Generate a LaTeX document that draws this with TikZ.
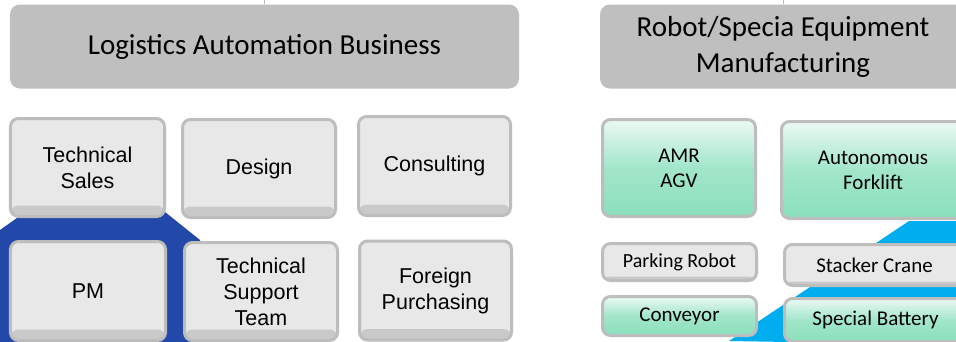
\documentclass[tikz,border=0pt]{standalone}
\usepackage{fontspec}
\setmainfont{Carlito}
\newfontfamily\arialfont{Liberation Sans}
\usepackage{tikz}
\usepackage{xcolor}

\definecolor{headgray}{HTML}{BFBFBF}
\definecolor{boxline}{HTML}{BDBDBD}
\definecolor{boxfill}{HTML}{E8E8E8}
\definecolor{boxstrip}{HTML}{C9C9C9}
\definecolor{greentop}{HTML}{ECF9F3}
\definecolor{greenmid}{HTML}{A2E6CA}
\definecolor{greenbot}{HTML}{8ADFBC}
\definecolor{darkblue}{HTML}{2249A9}
\definecolor{skyblue}{HTML}{00AEEF}

\begin{document}
\begin{tikzpicture}[x=1bp,y=-1bp,
    head/.style={fill=headgray, rounded corners=10bp, inner sep=0pt, align=center,
        font=\fontsize{29bp}{36bp}\selectfont},
    boxsize/.style 2 args={minimum width=#1bp, minimum height=#2bp},
    strip/.style={path picture={\fill[boxstrip] ([yshift=#1]path picture bounding box.south west)
        rectangle (path picture bounding box.south east);}},
    graybox/.style={draw=boxline, line width=3bp, rounded corners=8bp, fill=boxfill,
        inner sep=0pt, align=center, strip=11bp, font=\arialfont\fontsize{21.5bp}{26bp}\selectfont},
    greenbox/.style={draw=boxline, line width=3bp, rounded corners=8bp, inner sep=0pt,
        align=center, top color=greentop, bottom color=greenbot, middle color=greenmid,
        font=\fontsize{21bp}{25bp}\selectfont},
    flatbox/.style={graybox, strip=4bp, font=\fontsize{21bp}{25bp}\selectfont}]
    \clip (0,0) rectangle (956,341);
    \fill[white] (0,0) rectangle (956,341);
    % background bands
    \fill[darkblue] (0,230) -- (24,213) -- (165,212) -- (200,240) -- (200,345) -- (0,345) -- cycle;
    \fill[skyblue] (729,341) -- (909,221) -- (970,221) -- (970,345) -- cycle;
    % headers
    \node[head, boxsize={509}{84}] (lefthead) at (264.5,46.5) {Logistics Automation Business};
    \node[head, boxsize={366}{84}] (righthead) at (783,46.5) {Robot/Specia Equipment\\Manufacturing};
    \coordinate (lefttop) at (264.5,-10);
    \coordinate (righttop) at (783,-10);
    \draw[boxline, line width=1bp] (lefthead.north) -- (lefttop);
    \draw[boxline, line width=1bp] (righthead.north) -- (righttop);
    % logistics teams
    \node[graybox, boxsize={154}{98}] (sales) at (87.5,167.5) {Technical\\Sales};
    \node[graybox, boxsize={153}{98}] (design) at (259,168.5) {\raisebox{-6bp}{Design}};
    \node[graybox, boxsize={152}{99}] (consult) at (434.5,166) {\raisebox{-6bp}{Consulting}};
    \node[graybox, boxsize={155}{99}] (pm) at (88,291) {PM};
    \node[graybox, boxsize={153}{98}] (support) at (261,291.5) {Technical\\Support\\Team};
    \node[graybox, boxsize={152}{99}] (purchase) at (435.5,290.5) {Foreign\\Purchasing};
    % robot / equipment
    \node[greenbox, boxsize={153}{97}] (amr) at (679,168) {AMR\\AGV};
    \node[greenbox, boxsize={183}{97}] (forklift) at (873,170) {Autonomous\\Forklift};
    \node[flatbox, boxsize={154}{37}, font=\fontsize{20bp}{24bp}\selectfont] (parking) at (679.5,262) {Parking Robot};
    \node[flatbox, boxsize={180}{41}] (stacker) at (874.5,265) {Stacker Crane};
    \node[greenbox, boxsize={154}{39}] (conveyor) at (679.5,316) {Conveyor};
    \node[greenbox, boxsize={182}{43}] (battery) at (875.5,320) {Special Battery};
\end{tikzpicture}
\end{document}
